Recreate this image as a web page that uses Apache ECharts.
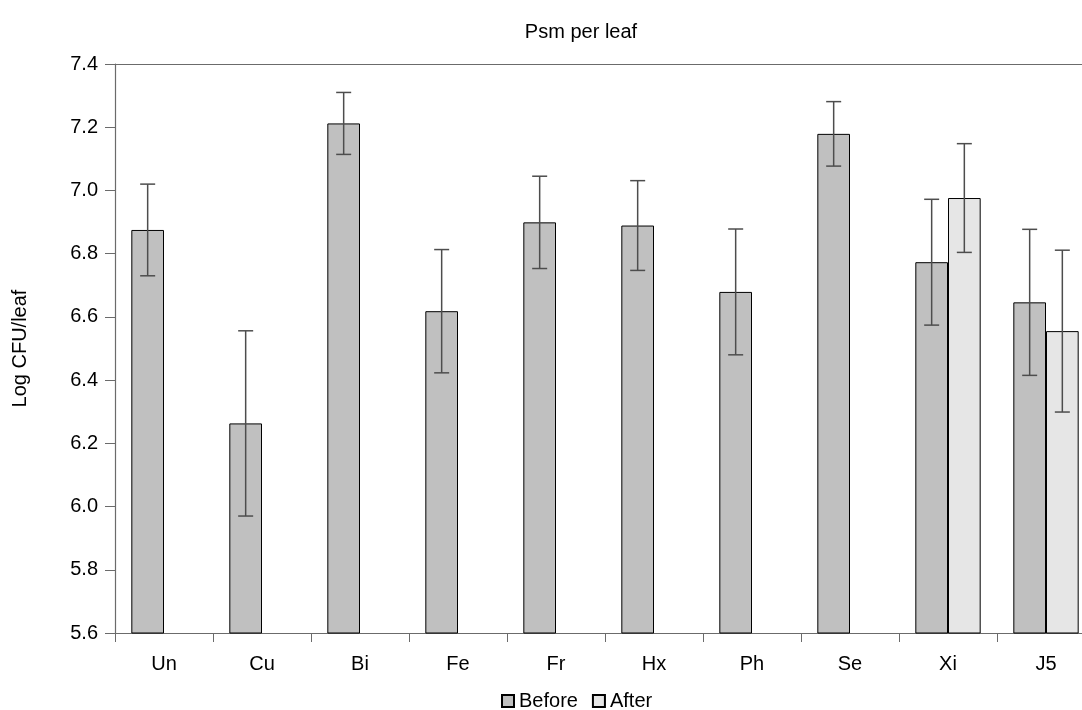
<!DOCTYPE html>
<html>
<head>
<meta charset="utf-8">
<script src="https://cdn.jsdelivr.net/npm/echarts@6/dist/echarts.min.js"></script>
<style>html,body{margin:0;padding:0;background:#fff;overflow:hidden;}#c{width:1100px;height:710px;}</style>
</head>
<body>
<div id="c"></div>
<script>
const categories = ['Un','Cu','Bi','Fe','Fr','Hx','Ph','Se','Xi','J5'];
const beforeVals = [6.875, 6.263, 7.212, 6.618, 6.899, 6.889, 6.679, 7.179, 6.773, 6.646];
const beforeErr  = [0.145, 0.293, 0.098, 0.195, 0.146, 0.142, 0.199, 0.102, 0.199, 0.231];
const afterVals  = [null, null, null, null, null, null, null, null, 6.976, 6.555];
const afterErr   = [null, null, null, null, null, null, null, null, 0.172, 0.256];
const yTicks = { min: 5.6, max: 7.4, interval: 0.2 };

const FONT = 'Liberation Sans, Arial, sans-serif';

function errData(vals, errs) {
  return categories.map((c, i) => vals[i] == null ? [null, null, null] : [i, vals[i] - errs[i], vals[i] + errs[i]]);
}
function errSeries(name, vals, errs, sign) {
  return {
    type: 'custom',
    name: name + ' err',
    z: 10,
    silent: true,
    data: errData(vals, errs),
    renderItem: function (params, api) {
      const idx = api.value(0);
      if (idx == null || isNaN(idx)) return;
      const band = api.size([1, 0])[0];
      const off = sign * band / 6;
      const lo = api.coord([idx, api.value(1)]);
      const hi = api.coord([idx, api.value(2)]);
      const x = lo[0] + off;
      const cap = 7.5;
      const style = { stroke: '#4d4d4d', lineWidth: 1.5 };
      return {
        type: 'group',
        children: [
          { type: 'line', shape: { x1: x, y1: lo[1], x2: x, y2: hi[1] }, style: style },
          { type: 'line', shape: { x1: x - cap, y1: lo[1], x2: x + cap, y2: lo[1] }, style: style },
          { type: 'line', shape: { x1: x - cap, y1: hi[1], x2: x + cap, y2: hi[1] }, style: style }
        ]
      };
    },
    encode: { x: 0, y: [1, 2] }
  };
}

const chart = echarts.init(document.getElementById('c'));
chart.setOption({
  animation: false,
  backgroundColor: '#ffffff',
  title: {
    text: 'Psm per leaf',
    left: 576, top: 17, textAlign: 'center',
    textStyle: { fontFamily: FONT, fontSize: 20, fontWeight: 'normal', color: '#000' }
  },
  legend: {
    data: ['Before', 'After'],
    left: 496, top: 686,
    icon: 'rect', itemWidth: 12, itemHeight: 12, itemGap: 14,
    textStyle: { fontFamily: FONT, fontSize: 20, color: '#000' }
  },
  grid: { left: 115, top: 64, width: 980, height: 569, containLabel: false },
  xAxis: [{
    type: 'category',
    data: categories,
    axisLine: { lineStyle: { color: '#6b6b6b', width: 1.2 } },
    axisTick: { show: true, length: 9, lineStyle: { color: '#6b6b6b' } },
    axisLabel: { fontFamily: FONT, fontSize: 20, color: '#000', margin: 21 }
  }, {
    type: 'category',
    data: categories,
    position: 'top',
    axisLine: { lineStyle: { color: '#6b6b6b', width: 1.2 } },
    axisTick: { show: false },
    axisLabel: { show: false }
  }],
  yAxis: {
    type: 'value',
    min: yTicks.min, max: yTicks.max, interval: yTicks.interval,
    name: 'Log CFU/leaf',
    nameLocation: 'middle',
    nameRotate: 90,
    nameGap: 85,
    nameTextStyle: { fontFamily: FONT, fontSize: 20, color: '#000' },
    axisLine: { show: true, lineStyle: { color: '#6b6b6b', width: 1.2 } },
    axisTick: { show: true, length: 10, lineStyle: { color: '#6b6b6b' } },
    splitLine: { show: false },
    axisLabel: {
      fontFamily: FONT, fontSize: 20, color: '#000', margin: 17,
      formatter: v => v.toFixed(1)
    }
  },
  series: [
    {
      name: 'Before', type: 'bar', data: beforeVals,
      barGap: '0%', barCategoryGap: '33.3%',
      itemStyle: { color: '#c0c0c0', borderColor: '#000', borderWidth: 1 }
    },
    {
      name: 'After', type: 'bar', data: afterVals,
      itemStyle: { color: '#e6e6e6', borderColor: '#000', borderWidth: 1 }
    },
    errSeries('Before', beforeVals, beforeErr, -1),
    errSeries('After', afterVals, afterErr, 1)
  ]
});
</script>
</body>
</html>
